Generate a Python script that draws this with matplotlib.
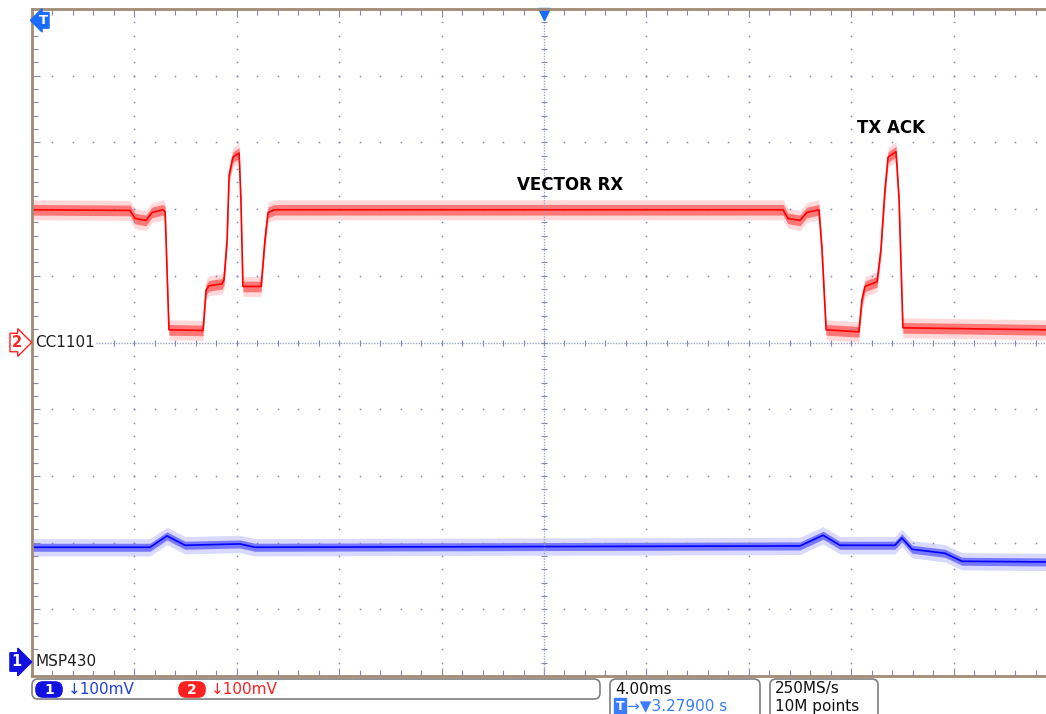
import matplotlib.pyplot as plt
import numpy as np
from matplotlib.patches import FancyBboxPatch
from matplotlib.transforms import IdentityTransform

W, H = 1046, 714

# CC1101 trace (channel 2), time in ms, level in mV above its ground marker
red_t = [-20.0, -16.17, -15.98, -15.55, -15.31, -14.88, -14.80, -14.65, -13.32, -13.20, -13.09,
         -12.58, -12.50, -12.38, -12.30, -12.15, -11.91, -11.84, -11.76, -11.05, -10.90, -10.78,
         -10.51, 9.34, 9.53, 10.00, 10.27, 10.74, 10.86, 11.02, 12.30, 12.42, 12.54, 12.73, 13.01,
         13.16, 13.32, 13.44, 13.75, 13.87, 14.02, 19.61]
red_mv = [199, 198, 186, 183, 195, 199, 196, 19, 18, 79, 85,
          88, 94, 154, 251, 278, 284, 214, 84, 84, 154, 195,
          199, 199, 186, 183, 195, 199, 139, 19, 16, 64, 84, 87, 91,
          139, 229, 278, 286, 214, 22, 19]

# MSP430 trace (channel 1)
blue_t = [-20.0, -15.39, -14.73, -14.02, -11.88, -11.29, 10.00, 10.90, 11.56, 13.71, 13.98,
          14.38, 15.66, 16.33, 19.61]
blue_mv = [172, 172, 189, 175, 177, 172, 174, 190, 175, 175, 186,
           169, 163, 151, 150]

ch1_offset = -479
ch2_offset = 0

fig = plt.figure(figsize=(W / 100, H / 100), dpi=100)
ax = fig.add_axes([32 / W, 1 - 676 / H, 1014 / W, 667 / H])
ax.set_xlim(-20, 19.61)
ax.set_ylim(-500, 500)

grid_c = "#8088b0"
for gx in np.arange(-16, 17, 4):
    if gx == 0:
        continue
    ys = np.arange(-480, 481, 20)
    ax.plot(np.full(len(ys), gx), ys, ls="none", marker="s", ms=1.1, color=grid_c, mew=0)
for gy in np.arange(-400, 401, 100):
    if gy == 0:
        continue
    xs = np.arange(-19.2, 19.7, 0.8)
    ax.plot(xs, np.full(len(xs), gy), ls="none", marker="s", ms=1.1, color=grid_c, mew=0)

# center cross
ax.axhline(0, color="#a0a8c8", lw=1, ls=(0, (1, 1)))
ax.axvline(0, color="#a0a8c8", lw=1, ls=(0, (1, 1)))
xs = np.arange(-19.2, 19.7, 0.8)
ax.plot(xs, np.zeros(len(xs)), ls="none", marker="|", ms=5, color=grid_c, mew=0.8)
ys = np.arange(-480, 481, 20)
ax.plot(np.zeros(len(ys)), ys, ls="none", marker="_", ms=5, color=grid_c, mew=0.8)

# traces
rt = np.array(red_t)
rv = np.array(red_mv) + ch2_offset
ax.fill_between(rt, rv - 15, rv + 15, color="#ff0000", alpha=0.15, lw=0)
ax.fill_between(rt, rv - 8, rv + 8, color="#ff0000", alpha=0.45, lw=0)
ax.plot(rt, rv, color="#ff0000", lw=1.2)

bt = np.array(blue_t)
bv = np.array(blue_mv) + ch1_offset
ax.fill_between(bt, bv - 13, bv + 13, color="#0000ff", alpha=0.15, lw=0)
ax.fill_between(bt, bv - 6, bv + 6, color="#0000ff", alpha=0.45, lw=0)
ax.plot(bt, bv, color="#0000ff", lw=1.2)

ax.text(1.02, 236, "VECTOR RX", ha="center", va="center", fontsize=12, fontweight="heavy")
ax.text(13.55, 322, "TX ACK", ha="center", va="center", fontsize=12, fontweight="heavy")

# axes frame and ticks
ax.set_xticks(np.arange(-16, 17, 4))
ax.set_xticks(np.arange(-19.2, 19.7, 0.8), minor=True)
ax.set_yticks(np.arange(-400, 401, 100))
ax.set_yticks(np.arange(-480, 481, 20), minor=True)
ax.tick_params(which="both", direction="in", top=True, bottom=True, left=True, right=False,
               labelbottom=False, labelleft=False, color=grid_c, width=0.8)
ax.tick_params(which="major", length=6)
ax.tick_params(which="minor", length=4)
for side in ["left", "top", "bottom"]:
    ax.spines[side].set_color("#a08c74")
    ax.spines[side].set_linewidth(2)
ax.spines["right"].set_visible(False)

# channel markers and labels
yax = ax.get_yaxis_transform()
ax.text(0.003, 0, "CC1101", transform=yax, ha="left", va="center", fontsize=11, color="#202020",
        bbox=dict(fc="white", ec="none", pad=1))
ax.text(0.003, ch1_offset, "MSP430", transform=yax, ha="left", va="center", fontsize=11, color="#202020",
        bbox=dict(fc="white", ec="none", pad=1))
ax.text(-0.015, 0, "2", transform=yax, ha="center", va="center", fontsize=10.5, color="#ff2020",
        fontweight="bold",
        bbox=dict(boxstyle="rarrow,pad=0.12", fc="white", ec="#ff2020", lw=1), clip_on=False)
ax.text(-0.015, ch1_offset, "1", transform=yax, ha="center", va="center", fontsize=10.5, color="white",
        fontweight="bold", bbox=dict(boxstyle="rarrow,pad=0.12", fc="#1010e0", ec="#1010e0", lw=1),
        clip_on=False)
ax.text(0.011, 483, "T", transform=yax, ha="center", va="center", fontsize=9.5, color="white",
        fontweight="bold", bbox=dict(boxstyle="larrow,pad=0.1", fc="#1a6cff", ec="#1a6cff", lw=1))
ax.plot([0], [492], marker="v", ms=8, color="#1a6cff", clip_on=False)

# status bar along the bottom
def box(x0, y0, x1, y1, ec="#808080", fc="white", r=6, lw=1.2):
    fig.patches.append(FancyBboxPatch((x0, H - y1), x1 - x0, y1 - y0,
                                      boxstyle="round,pad=0,rounding_size=%d" % r,
                                      fc=fc, ec=ec, lw=lw, transform=IdentityTransform(), figure=fig))

def ftext(x, y, s, **kw):
    fig.text(x / W, 1 - y / H, s, va="center", **kw)

box(32, 679, 600, 699)
box(610, 679, 760, 730)
box(770, 679, 878, 730)
box(36, 682, 62, 697, ec="#1010e0", fc="#1010e0", r=7)
box(179, 682, 205, 697, ec="#ff2020", fc="#ff2020", r=7)
ftext(49, 689.5, "1", ha="center", color="white", fontsize=10, fontweight="bold")
ftext(192, 689.5, "2", ha="center", color="white", fontsize=10, fontweight="bold")
ftext(68, 690, "\u2193100mV", ha="left", color="#2040e0", fontsize=11)
ftext(211, 690, "\u2193100mV", ha="left", color="#ff2020", fontsize=11)
ftext(615, 689, "4.00ms", ha="left", color="#101010", fontsize=11)
ftext(620, 706, "T", ha="center", color="white", fontsize=9, fontweight="bold",
      bbox=dict(boxstyle="square,pad=0.1", fc="#3a7cff", ec="#3a7cff"))
ftext(627, 706, "\u2192\u25bc3.27900 s", ha="left", color="#3a7cff", fontsize=11)
ftext(775, 689, "250MS/s", ha="left", color="#101010", fontsize=11)
ftext(775, 706, "10M points", ha="left", color="#101010", fontsize=11)

plt.savefig("out.png", dpi=100)
